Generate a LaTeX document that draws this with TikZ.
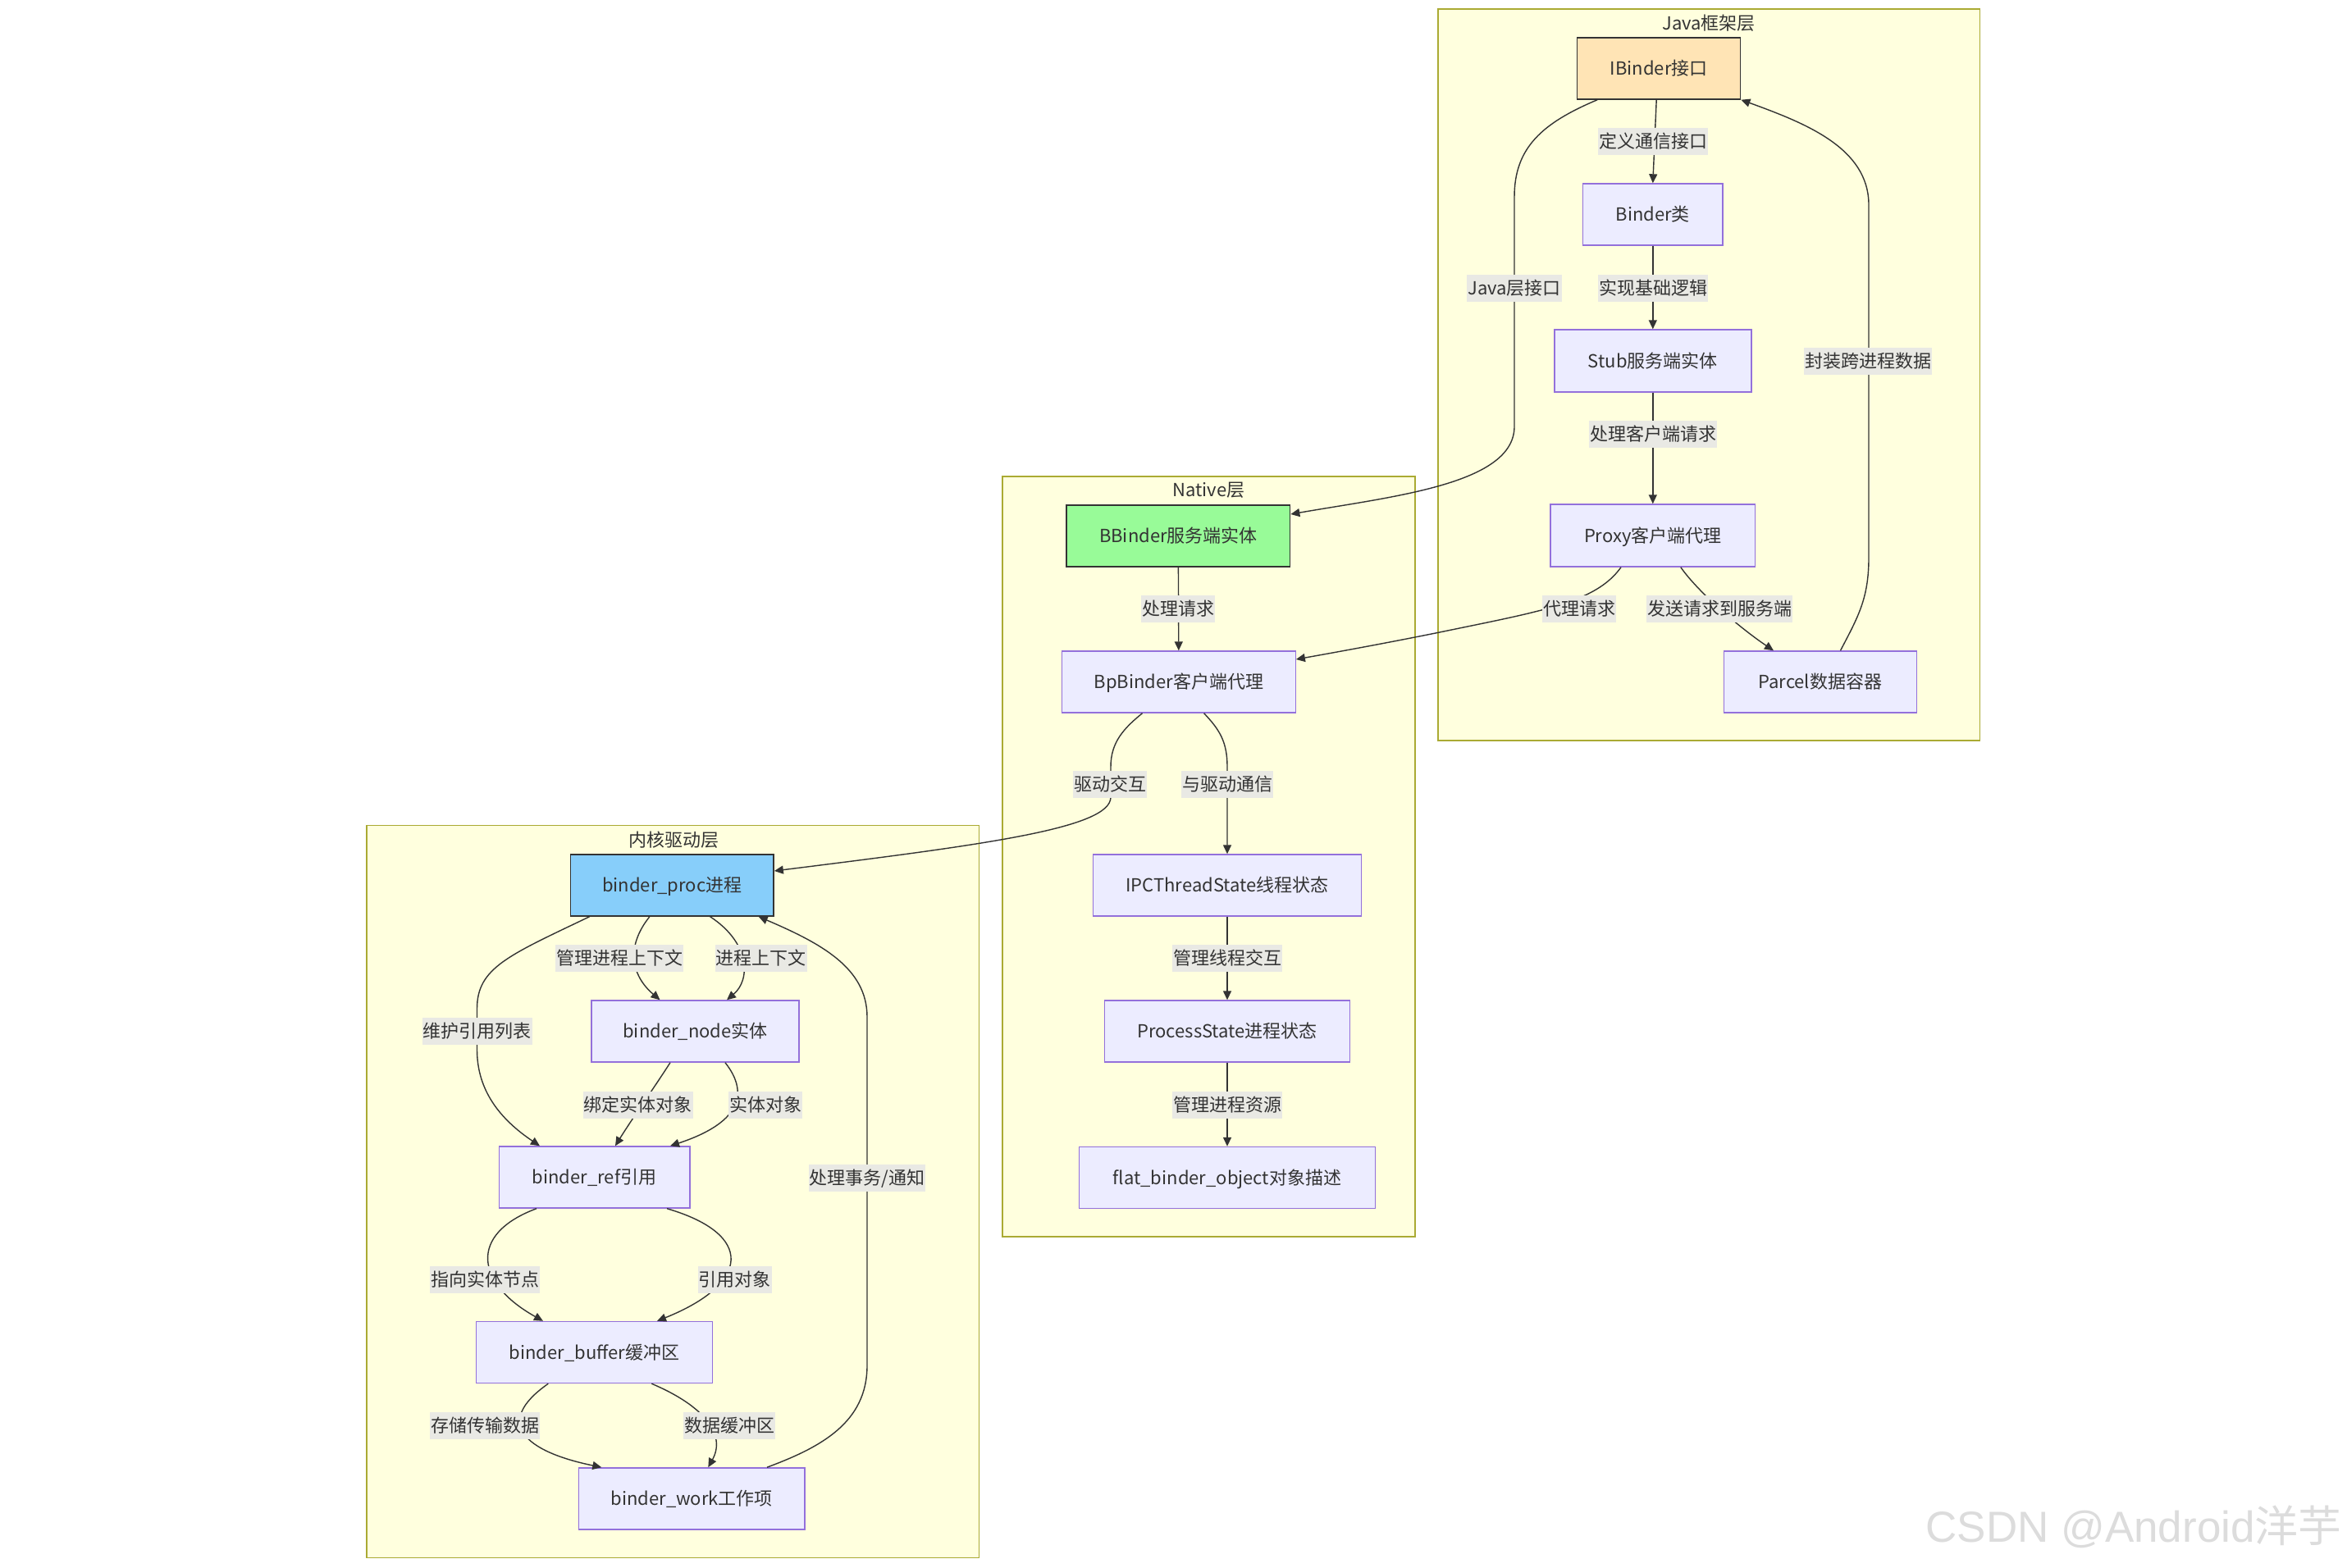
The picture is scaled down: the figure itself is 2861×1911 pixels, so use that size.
\documentclass[tikz,border=0pt]{standalone}
\usepackage{fontspec}
\setmainfont{Noto Sans CJK SC}
\newfontfamily\wmlatin{Liberation Sans}
\newfontfamily\wmcjk{Noto Sans CJK SC}
\usetikzlibrary{arrows.meta}
\definecolor{clfill}{HTML}{FFFFDE}
\definecolor{cldraw}{HTML}{AAAA33}
\definecolor{nfill}{HTML}{ECECFF}
\definecolor{ndraw}{HTML}{9370DB}
\definecolor{edgec}{HTML}{333333}
\definecolor{txtc}{HTML}{333333}
\definecolor{lblbg}{HTML}{E9E9E4}
\definecolor{ibfill}{HTML}{FFE4B5}
\definecolor{bbfill}{HTML}{98FB98}
\definecolor{procfill}{HTML}{87CEFA}
\definecolor{wmc}{HTML}{DCDCDC}
\begin{document}
\begin{tikzpicture}[x=1pt,y=-1pt,
  every node/.style={font=\fontsize{22pt}{26pt}\selectfont, text=txtc},
  cluster/.style={draw=cldraw, fill=clfill, line width=1.4pt, inner sep=0pt},
  ctitle/.style={inner sep=0pt, text height=19pt, text depth=2.5pt},
  box/.style={draw=ndraw, fill=nfill, line width=1.4pt, inner sep=0pt, minimum height=75pt, text height=19pt, text depth=2.5pt},
  darkbox/.style={box, draw=edgec},
  lbl/.style={fill=lblbg, inner xsep=1pt, inner ysep=0pt, minimum height=33pt, text height=19pt, text depth=2.5pt},
  conn/.style={draw=edgec, line width=1.4pt, -{Triangle[length=11pt,width=10pt]}},
]
\fill[white] (0,0) rectangle (2861,1911);
\useasboundingbox (0,0) rectangle (2861,1911);

% clusters
\node[cluster, minimum width=660.6pt, minimum height=892pt] (javaC) at (2083.3,457) {};
\node[cluster, minimum width=503pt, minimum height=927pt] (nativeC) at (1473.5,1044.5) {};
\node[cluster, minimum width=746.7pt, minimum height=892.6pt] (kernC) at (820.35,1453) {};
\node[ctitle] (javaT) at (2083,28) {Java框架层};
\node[ctitle] (nativeT) at (1473.5,597) {Native层};
\node[ctitle] (kernT) at (821.5,1024) {内核驱动层};

% Java nodes
\node[darkbox, fill=ibfill, minimum width=199pt] (ib) at (2022.2,83.5) {IBinder接口};
\node[box, minimum width=170.5pt] (bc) at (2014.8,261.5) {Binder类};
\node[box, minimum width=240pt, minimum height=76pt] (stub) at (2014.8,440) {Stub服务端实体};
\node[box, minimum width=249.5pt, minimum height=76pt] (proxy) at (2014.8,653) {Proxy客户端代理};
\node[box, minimum width=235pt] (parcel) at (2218.8,831.5) {Parcel数据容器};

% Native nodes
\node[darkbox, fill=bbfill, minimum width=272.5pt] (bb) at (1436.4,653.5) {BBinder服务端实体};
\node[box, minimum width=284.8pt] (bp) at (1436.8,831.5) {BpBinder客户端代理};
\node[box, minimum width=327.5pt] (ipc) at (1496,1079.5) {IPCThreadState线程状态};
\node[box, minimum width=299pt] (ps) at (1496,1257.5) {ProcessState进程状态};
\node[box, minimum width=360.6pt] (fbo) at (1496,1436) {flat\_binder\_object对象描述};

% Kernel nodes
\node[darkbox, fill=procfill, minimum width=247.7pt] (proc) at (819.3,1079.5) {binder\_proc进程};
\node[box, minimum width=253pt] (bnode) at (847.5,1257.5) {binder\_node实体};
\node[box, minimum width=232.6pt] (ref) at (724.5,1435.5) {binder\_ref引用};
\node[box, minimum width=288pt] (buf) at (724.5,1649) {binder\_buffer缓冲区};
\node[box, minimum width=275.3pt] (work) at (843.3,1827.4) {binder\_work工作项};

% Java edges
\draw[conn] ([xshift=-3pt]ib.south) -- (bc.north) node[lbl] (l1) at (2015,172) {定义通信接口};
\draw[conn] (bc.south) -- (stub.north) node[lbl] (l2) at (2015,351) {实现基础逻辑};
\draw[conn] (stub.south) -- (proxy.north) node[lbl] (l3) at (2015,529) {处理客户端请求};
\draw[conn] ([xshift=-75pt]ib.south) .. controls (1880,150) and (1846,180) .. (1846,240) -- (1846,520) .. controls (1846,590) and (1700,605) .. ([yshift=26.5pt]bb.east) node[lbl] (l4) at (1846,351) {Java层接口};
\draw[conn] ([xshift=24.7pt]parcel.north) .. controls (2265,752) and (2278,730) .. (2278,680) -- (2278,250) .. controls (2278,180) and (2200,150) .. (ib.south east) node[lbl] (l5) at (2277,440) {封装跨进程数据};
\draw[conn] ([xshift=-38.8pt]proxy.south) .. controls (1945,735) and (1880,745) .. (1750,772) .. controls (1680,786) and (1630,795) .. ([yshift=27.5pt]bp.east) node[lbl] (l6) at (1925,742) {代理请求};
\draw[conn] ([xshift=34pt]proxy.south) .. controls (2070,722) and (2120,765) .. ([xshift=-56.8pt]parcel.north) node[lbl] (l22) at (2096,742) {发送请求到服务端};

% Native edges
\draw[conn] (bb.south) -- (bp.north) node[lbl] (l7) at (1436,742) {处理请求};
\draw[conn] ([xshift=30.8pt]bp.south) .. controls (1487,890) and (1496,905) .. (1496,935) -- (ipc.north) node[lbl] (l8) at (1496,956) {与驱动通信};
\draw[conn] ([xshift=-44.3pt]bp.south) .. controls (1370,888) and (1354,905) .. (1354,935) -- (1354,972) .. controls (1354,1010) and (1200,1030) .. ([yshift=17.5pt]proc.east) node[lbl] (l9) at (1353,956) {驱动交互};
\draw[conn] (ipc.south) -- (ps.north) node[lbl] (l10) at (1496,1168) {管理线程交互};
\draw[conn] (ps.south) -- (fbo.north) node[lbl] (l11) at (1496,1347) {管理进程资源};

% Kernel edges
\draw[conn] ([xshift=-27.4pt]proc.south) .. controls (762,1155) and (770,1190) .. ([xshift=-43pt]bnode.north) node[lbl] (l12) at (755,1168) {管理进程上下文};
\draw[conn] ([xshift=46.3pt]proc.south) .. controls (915,1150) and (915,1195) .. ([xshift=38.5pt]bnode.north) node[lbl] (l13) at (927.6,1168) {进程上下文};
\draw[conn] ([xshift=-100.6pt]proc.south) .. controls (620,1165) and (581.5,1180) .. (581.5,1230) -- (581.5,1280) .. controls (581.5,1330) and (610,1365) .. ([xshift=-66.5pt]ref.north) node[lbl] (l14) at (581.5,1257) {维护引用列表};
\draw[conn] ([xshift=-30.5pt]bnode.south) .. controls (795,1330) and (770,1365) .. ([xshift=25.5pt]ref.north) node[lbl] (l15) at (777.8,1347) {绑定实体对象};
\draw[conn] ([xshift=36.5pt]bnode.south) .. controls (915,1335) and (900,1370) .. ([xshift=92.5pt]ref.north) node[lbl] (l16) at (933,1347) {实体对象};
\draw[conn] ([xshift=91.7pt]work.north) .. controls (1000,1765) and (1057,1735) .. (1057,1665) -- (1057,1240) .. controls (1057,1180) and (1000,1150) .. ([xshift=105.4pt]proc.south) node[lbl] (l17) at (1057,1436) {处理事务/通知};
\draw[conn] ([xshift=-70.5pt]ref.south) .. controls (570,1505) and (580,1565) .. ([xshift=-62.5pt]buf.north) node[lbl] (l18) at (591,1560) {指向实体节点};
\draw[conn] ([xshift=88.5pt]ref.south) .. controls (920,1505) and (915,1565) .. ([xshift=76.5pt]buf.north) node[lbl] (l19) at (895.6,1560) {引用对象};
\draw[conn] ([xshift=-56.2pt]buf.south) .. controls (600,1735) and (640,1770) .. ([xshift=-110pt]work.north) node[lbl] (l20) at (591,1738) {存储传输数据};
\draw[conn] ([xshift=69.8pt]buf.south) .. controls (860,1715) and (885,1750) .. ([xshift=20pt]work.north) node[lbl] (l21) at (889,1738) {数据缓冲区};

% watermark
\node[anchor=base east, text=wmc, font=\fontsize{53pt}{60pt}\selectfont, inner sep=0pt] (wm) at (2855,1880) {\wmlatin CSDN @Android\wmcjk 洋芋};
\end{tikzpicture}
\end{document}
